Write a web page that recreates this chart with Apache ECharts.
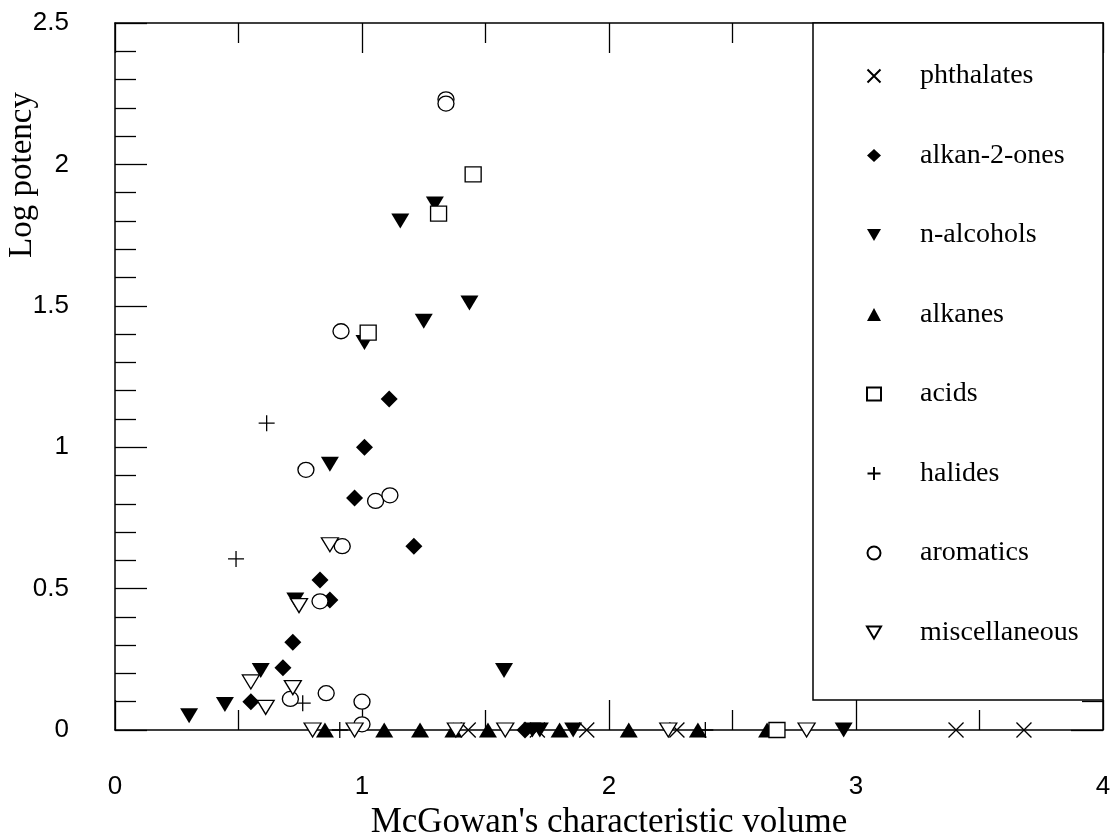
<!DOCTYPE html>
<html>
<head>
<meta charset="utf-8">
<title>Log potency vs McGowan's characteristic volume</title>
<script src="https://cdn.jsdelivr.net/npm/echarts@6/dist/echarts.min.js"></script>
<style>
  html, body { margin: 0; padding: 0; background: #fff; }
  #chart { width: 1113px; height: 836px; }
</style>
</head>
<body>
<div id="chart"></div>
<script>
// data: [McGowan volume, log potency]
var phthalates = [[1.43, 0], [1.71, 0], [1.91, 0], [2.275, 0], [3.405, 0], [3.68, 0]];
var alkan2ones = [[0.55, 0.10], [0.68, 0.22], [0.72, 0.31], [0.83, 0.53], [0.87, 0.46], [0.97, 0.82],
                  [1.01, 1.0], [1.11, 1.17], [1.21, 0.65], [1.66, 0]];
var nAlcohols = [[0.30, 0.05], [0.445, 0.09], [0.59, 0.21], [0.73, 0.46], [0.87, 0.94], [1.01, 1.37],
                 [1.155, 1.80], [1.25, 1.445], [1.295, 1.86], [1.435, 1.51], [1.575, 0.21],
                 [1.69, 0], [1.72, 0], [1.855, 0], [2.95, 0]];
var alkanes = [[0.85, 0], [1.09, 0], [1.235, 0], [1.37, 0], [1.51, 0], [1.80, 0], [2.08, 0], [2.36, 0], [2.64, 0]];
var acids = [[1.025, 1.405], [1.31, 1.826], [1.45, 1.965], [2.68, 0]];
var halides = [[0.49, 0.605], [0.614, 1.085], [0.76, 0.095], [0.91, 0], [2.39, 0]];
var aromatics = [[0.71, 0.11], [0.773, 0.92], [0.83, 0.455], [0.855, 0.13], [0.915, 1.41], [0.92, 0.65],
                 [1.0, 0.10], [1.0, 0.02], [1.055, 0.81], [1.113, 0.83], [1.34, 2.23], [1.34, 2.215]];
var miscellaneous = [[0.55, 0.17], [0.61, 0.08], [0.72, 0.15], [0.745, 0.44], [0.8, 0], [0.87, 0.655],
                     [0.97, 0], [1.38, 0], [1.58, 0], [2.24, 0], [2.80, 0]];

var seriesNames = ['phthalates', 'alkan-2-ones', 'n-alcohols', 'alkanes', 'acids', 'halides', 'aromatics', 'miscellaneous'];

var myChart = echarts.init(document.getElementById('chart'));

var CROSS = 'path://M0,0L10,10M10,0L0,10';
var PLUS = 'path://M5,0L5,10M0,5L10,5';
var DOWN = 'path://M0,0L10,0L5,8.5Z';

// filled / open / line-only marker styles
var filled = { color: '#000', borderColor: '#000', borderWidth: 0, opacity: 1 };
var hollow = { color: '#fff', borderColor: '#000', borderWidth: 1.3, opacity: 1 };
var lineOnly = { color: 'rgba(0,0,0,0)', borderColor: '#000', borderWidth: 1.3, opacity: 1 };

function scatter(name, data, symbol, size, style) {
    return {
        name: name,
        type: 'scatter',
        data: data,
        symbol: symbol,
        symbolSize: size,
        itemStyle: style,
        emphasis: { disabled: true }
    };
}

var frameLine = { show: true, onZero: false, lineStyle: { color: '#000', width: 1.5 } };
var tickStyle = { color: '#000', width: 1.3 };
var numFont = 'Liberation Sans, Arial, sans-serif';
var serifFont = 'Liberation Serif, Times New Roman, serif';

var option = {
    animation: false,
    backgroundColor: '#fff',
    grid: { left: 115, right: 10, top: 23, bottom: 106, containLabel: false, outerBoundsMode: 'none' },
    xAxis: [{
        type: 'value', position: 'bottom', min: 0, max: 4, interval: 1,
        axisLine: frameLine, splitLine: { show: false },
        axisTick: { inside: true, length: 30, lineStyle: tickStyle },
        minorTick: { show: true, splitNumber: 2, length: 20, lineStyle: tickStyle },
        axisLabel: { margin: 44, color: '#000', fontFamily: numFont, fontSize: 26 },
        name: "McGowan's characteristic volume",
        nameLocation: 'middle', nameGap: 72,
        nameTextStyle: { color: '#000', fontFamily: serifFont, fontSize: 35 }
    }, {
        type: 'value', position: 'top', min: 0, max: 4, interval: 1,
        axisLine: frameLine, splitLine: { show: false },
        axisTick: { inside: true, length: 30, lineStyle: tickStyle },
        minorTick: { show: true, splitNumber: 2, length: 20, lineStyle: tickStyle },
        axisLabel: { show: false }
    }],
    yAxis: [{
        type: 'value', position: 'left', min: 0, max: 2.5, interval: 0.5,
        axisLine: frameLine, splitLine: { show: false },
        axisTick: { inside: true, length: 32, lineStyle: tickStyle },
        minorTick: { show: true, splitNumber: 5, length: 21, lineStyle: tickStyle },
        axisLabel: { margin: 46, color: '#000', fontFamily: numFont, fontSize: 26 }
    }, {
        type: 'value', position: 'right', min: 0, max: 2.5, interval: 0.5,
        axisLine: frameLine, splitLine: { show: false },
        axisTick: { inside: true, length: 32, lineStyle: tickStyle },
        minorTick: { show: true, splitNumber: 5, length: 21, lineStyle: tickStyle },
        axisLabel: { show: false }
    }],
    legend: {
        orient: 'vertical',
        left: 861, top: 56,
        itemWidth: 14, itemHeight: 13, itemGap: 49.5,
        selectedMode: false,
        data: seriesNames,
        textStyle: { color: '#000', fontFamily: serifFont, fontSize: 28, lineHeight: 30, padding: [0, 0, 0, 34] }
    },
    graphic: [{
        type: 'rect', z: 3,
        shape: { x: 813, y: 23, width: 290, height: 677 },
        style: { fill: '#fff', stroke: '#000', lineWidth: 1.5 }
    }, {
        type: 'text', z: 5,
        x: 22, y: 175, rotation: Math.PI / 2,
        style: {
            text: 'Log potency', fill: '#000', align: 'center', verticalAlign: 'middle',
            font: '33px "Liberation Serif", "Times New Roman", serif'
        }
    }],
    series: [
        scatter(seriesNames[0], phthalates, CROSS, 15, lineOnly),
        scatter(seriesNames[1], alkan2ones, 'diamond', 17, filled),
        scatter(seriesNames[2], nAlcohols, DOWN, [18, 15], filled),
        scatter(seriesNames[3], alkanes, 'triangle', [18, 15], filled),
        scatter(seriesNames[4], acids, 'rect', [16, 15], hollow),
        scatter(seriesNames[5], halides, PLUS, 16, lineOnly),
        scatter(seriesNames[6], aromatics, 'circle', [16, 15], hollow),
        scatter(seriesNames[7], miscellaneous, DOWN, [17, 14], hollow)
    ]
};

myChart.setOption(option);
</script>
</body>
</html>
